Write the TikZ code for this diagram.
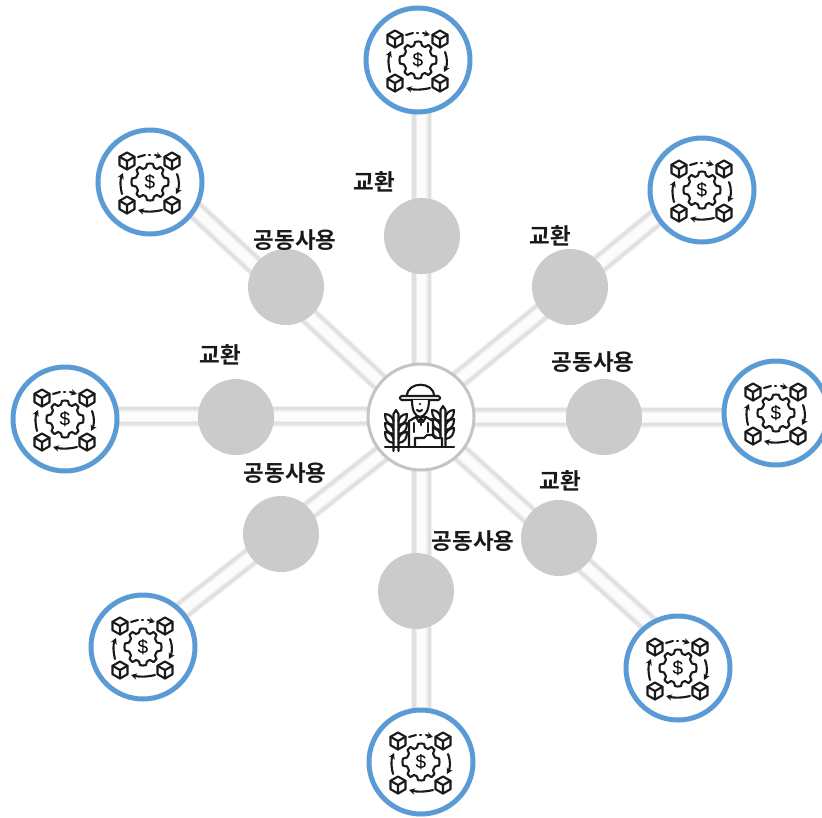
\documentclass[tikz,border=0pt]{standalone}
\usepackage{fontspec}
\newfontfamily\krfont{Noto Sans CJK KR Bold}
\setsansfont{Liberation Sans}
\usetikzlibrary{arrows.meta,backgrounds}
\definecolor{ringblue}{HTML}{5B9BD5}
\definecolor{discgray}{HTML}{CBCBCB}
\definecolor{hubgray}{HTML}{C4C4C4}
\tikzset{
  x=1pt,y=-1pt,
  disc/.style={circle,fill=discgray,minimum size=76pt,inner sep=0pt},
  token/.style={circle,draw=ringblue,fill=white,line width=5pt,minimum size=104pt,inner sep=0pt,outer sep=0pt},
  hubnode/.style={circle,draw=hubgray,fill=white,line width=3pt,minimum size=106pt,inner sep=0pt,outer sep=0pt},
  lab/.style={font=\krfont\fontsize{22.5}{24}\selectfont,text=black!90,inner sep=0pt},
  ink/.style={draw=black!90,line width=2.1pt,line cap=round,line join=round},
  arw/.style={ink,-{Stealth[length=6pt,width=6.5pt]}},
  pics/cube/.style={code={
    \draw[ink] (0,-8.5) -- (7.5,-4.2) -- (7.5,4.2) -- (0,8.5) -- (-7.5,4.2) -- (-7.5,-4.2) -- cycle;
    \draw[ink] (-7.5,-4.2) -- (0,0) -- (7.5,-4.2) (0,0) -- (0,8.5);
  }},
  pics/exchange/.style={code={
    \pic at (-23,-21) {cube};
    \pic at (22,-21) {cube};
    \pic at (-23,23) {cube};
    \pic at (22,23) {cube};
    \draw[ink] plot[smooth cycle,tension=0.2] coordinates {
      (0,-18.5) (3,-18) (4,-14.5) (7,-13) (10.5,-15) (13.5,-12) (12,-8.5) (14,-4.5) (18,-3.5) (18.5,0)
      (18,3.5) (14,4.5) (12,8.5) (13.5,12) (10.5,15) (7,13) (4,14.5) (3,18) (0,18.5)
      (-3,18) (-4,14.5) (-7,13) (-10.5,15) (-13.5,12) (-12,8.5) (-14,4.5) (-18,3.5) (-18.5,0)
      (-18,-3.5) (-14,-4.5) (-12,-8.5) (-13.5,-12) (-10.5,-15) (-7,-13) (-4,-14.5) (-3,-18)};
    \node[font=\sffamily\fontsize{19}{19}\selectfont,text=black,inner sep=0pt] at (0,0) {\$};
    \draw[ink] (-12,-25) -- (-5,-27);
    \draw[ink] (-1,-27) -- (0,-27);
    \draw[arw] (5,-27) -- (12,-25);
    \draw[arw] (27,-8) .. controls (30,0) and (29,6) .. (26,12);
    \draw[arw] (12,28) .. controls (4,30) and (-4,30) .. (-12,28);
    \draw[arw] (-28,12) .. controls (-30,4) and (-30,-2) .. (-27,-9);
  }},
  pics/wheat/.style={code={
    \draw[ink] (-2.5,25) -- (-2.5,-12) -- (0,-16) -- (2.5,-12) -- (2.5,25);
    \foreach \yy in {-6,3,12}{
      \draw[ink] (-2.5,\yy+5) .. controls (-9,\yy+4) and (-11,\yy) .. (-11,\yy-6) .. controls (-6,\yy-6) and (-3,\yy-2) .. (-2.5,\yy+1);
      \draw[ink] (2.5,\yy+5) .. controls (9,\yy+4) and (11,\yy) .. (11,\yy-6) .. controls (6,\yy-6) and (3,\yy-2) .. (2.5,\yy+1);
    }
  }},
  pics/farmer/.style={code={
    \begin{scope}[shift={(-25,9)},yscale=0.83] \pic {wheat}; \end{scope}
    \pic at (22,5) {wheat};
    \draw[ink,fill=white] (-12,30) -- (-12,4) -- (-5,0) -- (5,0) -- (12,4) -- (12,30);
    \draw[ink,fill=white] (-14,-21) .. controls (-14,-36) and (13,-36) .. (13,-21);
    \draw[ink,fill=white,rounded corners=1.5pt] (-21,-21) rectangle (19,-17);
    \draw[ink,fill=white] (-9,-17) .. controls (-9,-6) and (-6,-1) .. (-1,0) .. controls (4,-1) and (8,-6) .. (8,-17);
    \draw[ink] (-4,-7) .. controls (-3,-5) and (0,-5) .. (1,-7);
    \fill[black] (-1,-13) circle (1.2pt);
    \draw[ink] (-5,0) -- (-2,5) -- (0,1) -- (2,5) -- (5,0);
    \draw[ink] (0,5) -- (0,8);
    \draw[ink] (-7,6) -- (-7,15) (7,6) -- (7,15);
    \draw[ink,fill=white] (-6,30) -- (-6,21) -- (3,21) -- (6,18) -- (11,18) -- (14,21) -- (21,21) -- (21,30);
    \draw[ink] (-36,30) -- (33,30);
  }},
}
\begin{document}
\begin{tikzpicture}
\useasboundingbox (0,0) rectangle (822,817);
\clip (0,0) rectangle (822,817);
\node[hubnode] (hub) at (421,417) {};
\node[disc] (g1) at (422,236) {};
\node[disc] (g2) at (570,287) {};
\node[disc] (g3) at (604,417) {};
\node[disc] (g4) at (559,538) {};
\node[disc] (g5) at (416,591) {};
\node[disc] (g6) at (281,534) {};
\node[disc] (g7) at (236,417) {};
\node[disc] (g8) at (286,287) {};
\node[token] (t1) at (418,60) {};
\node[token] (t2) at (702,190) {};
\node[token] (t3) at (776,413) {};
\node[token] (t4) at (678,668) {};
\node[token] (t5) at (421,762) {};
\node[token] (t6) at (143,647) {};
\node[token] (t7) at (65,419) {};
\node[token] (t8) at (150,182) {};
% spoke ends, hidden under the hub and the outer circles
\coordinate (a1) at (421.5,417); \coordinate (b1) at (421.5,60);
\coordinate (a2) at (421.5,410); \coordinate (b2) at (702,180);
\coordinate (a3) at (421.5,417); \coordinate (b3) at (776,417);
\coordinate (a4) at (421.5,418); \coordinate (b4) at (678,650);
\coordinate (a5) at (421.5,417); \coordinate (b5) at (421.5,762);
\coordinate (a6) at (421.5,422.5); \coordinate (b6) at (143,641);
\coordinate (a7) at (421.5,416); \coordinate (b7) at (65,416);
\coordinate (a8) at (421.5,421); \coordinate (b8) at (150,168);
\begin{pgfonlayer}{background}
\fill[white] (0,0) rectangle (822,817);
\foreach \n in {1,...,8}{
  \draw[line width=21pt,draw=black!5] (a\n) -- (b\n);
  \draw[line width=18.5pt,draw=black!12] (a\n) -- (b\n);
  \draw[line width=12pt,draw=black!6] (a\n) -- (b\n);
  \draw[line width=9pt,draw=black!1] (a\n) -- (b\n);
}
\end{pgfonlayer}
\pic at (hub) {farmer};
\foreach \t in {t1,t2,t3,t4,t5,t6,t7,t8}{ \pic at (\t) {exchange}; }
\node[lab] (l1) at (374,182) {교환};
\node[lab] (l2) at (550,236) {교환};
\node[lab] (l3) at (593,362) {공동사용};
\node[lab] (l4) at (560,481) {교환};
\node[lab] (l5) at (473,541) {공동사용};
\node[lab] (l6) at (285,473) {공동사용};
\node[lab] (l7) at (220,355) {교환};
\node[lab] (l8) at (295,240) {공동사용};
\end{tikzpicture}
\end{document}
